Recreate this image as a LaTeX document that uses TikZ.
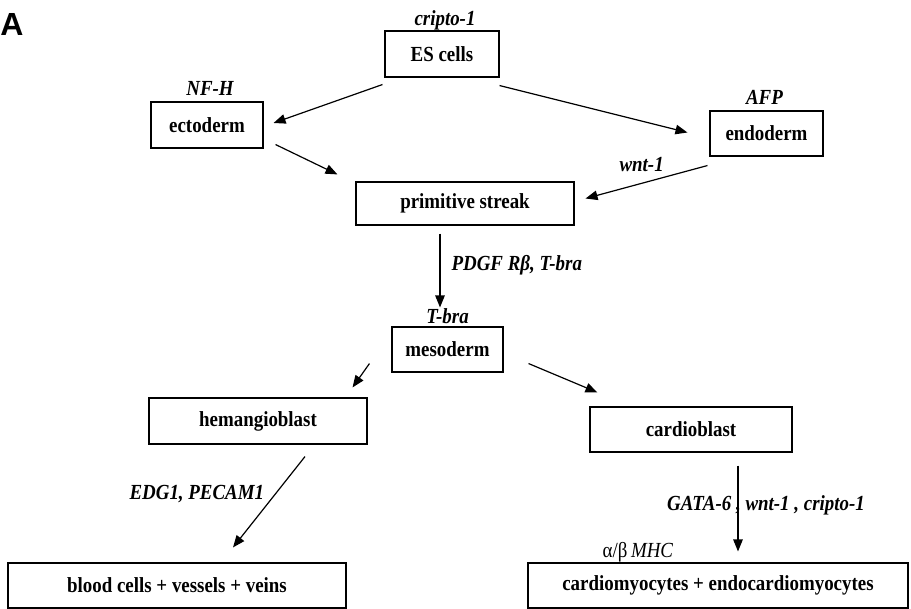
\documentclass[tikz,border=0pt]{standalone}
\usepackage{fontspec}
\setmainfont{Liberation Serif}[FakeStretch=0.88]
\newfontfamily\panelfont{Liberation Sans}
\usetikzlibrary{arrows.meta, positioning}

\begin{document}
\begin{tikzpicture}[
        x=1pt, y=-1pt,
        cellbox/.style={
            draw,
            line width=1.1pt,
            inner sep=0pt,
            font=\fontsize{21.5}{24}\selectfont\bfseries
        },
        marker/.style={
            inner sep=1pt,
            text height=14.5pt,
            text depth=4.5pt,
            font=\fontsize{21.5}{24}\selectfont\bfseries\itshape
        },
        flow/.style={-{Triangle[length=12pt, width=9.5pt]}, line width=1.2pt}
    ]
        \useasboundingbox (0,0) rectangle (911,609);
        \node[font=\panelfont\fontsize{32}{36}\selectfont\bfseries] (panel) at (12,24) {A};

        % cell stages
        \node[cellbox, minimum width=114pt, minimum height=46pt] (escells) at (442,54) {ES cells};
        \node[cellbox, minimum width=112pt, minimum height=46pt] (ecto) at (207,125) {ectoderm};
        \node[cellbox, minimum width=113pt, minimum height=45pt] (endo) at (766.5,133.5) {endoderm};
        \node[cellbox, minimum width=218pt, minimum height=43pt] (streak) at (465,203.5) {primitive streak};
        \node[cellbox, minimum width=111pt, minimum height=45pt] (meso) at (447.5,349.5) {mesoderm};
        \node[cellbox, minimum width=218pt, minimum height=46pt] (hemang) at (258,421) {hemangioblast};
        \node[cellbox, minimum width=202pt, minimum height=45pt] (cardiob) at (691,429.5) {cardioblast};
        \node[cellbox, minimum width=338pt, minimum height=45pt] (blood) at (177,585.5) {blood cells + vessels + veins};
        \node[cellbox, minimum width=380pt, minimum height=45pt] (cardiom) at (718,585.5) {cardiomyocytes + endocardiomyocytes};

        % markers above the boxes
        \node[marker, above=-1pt of escells, xshift=3pt] (cripto) {cripto-1};
        \node[marker, above=0pt of ecto, xshift=3pt] (nfh) {NF-H};
        \node[marker, above=0pt of endo, xshift=-2pt] (afp) {AFP};
        \node[marker, above=-3pt of meso] (tbra) {T-bra};
        \node[marker, font=\fontsize{21.5}{24}\selectfont, above right=-1pt and 74pt of cardiom.north west] (mhc) {α/β\,\textit{MHC}};

        \draw[flow] ([xshift=-2pt,yshift=-7pt]escells.south west) -- ([xshift=10pt,yshift=2pt]ecto.east);
        \draw[flow] ([yshift=-8pt]escells.south east) -- ([xshift=-22pt,yshift=1pt]endo.west);
        \draw[flow] ([xshift=12pt,yshift=4pt]ecto.south east) -- ([xshift=-18pt,yshift=7pt]streak.north west);
        \draw[flow] ([xshift=-2pt,yshift=-9pt]endo.south west) --
            node[marker, above=6pt, pos=0.54] (wnt) {wnt-1}
            ([xshift=11pt,yshift=5pt]streak.east);
        \draw[flow] ([xshift=-25pt,yshift=-8pt]streak.south) --
            node[marker, right=10pt, pos=0.43] (pdgf) {PDGF Rβ, T-bra}
            ([xshift=-7.5pt,yshift=19pt]meso.north);
        \draw[flow] ([xshift=-22pt,yshift=9pt]meso.south west) -- ([xshift=-15pt,yshift=10pt]hemang.north east);
        \draw[flow] ([xshift=25pt,yshift=9pt]meso.south east) -- ([xshift=8pt,yshift=14pt]cardiob.north west);
        \draw[flow] ([xshift=47pt,yshift=-12pt]hemang.south) --
            node[marker, left=9pt, pos=0.42] (edg) {EDG1, PECAM1}
            ([xshift=56pt,yshift=15pt]blood.north);
        \draw[flow] ([xshift=47pt,yshift=-13pt]cardiob.south) --
            node[marker, pos=0.46, xshift=28pt] (gata) {GATA-6 , wnt-1 , cripto-1}
            ([xshift=20pt,yshift=11pt]cardiom.north);
    \end{tikzpicture}
\end{document}
